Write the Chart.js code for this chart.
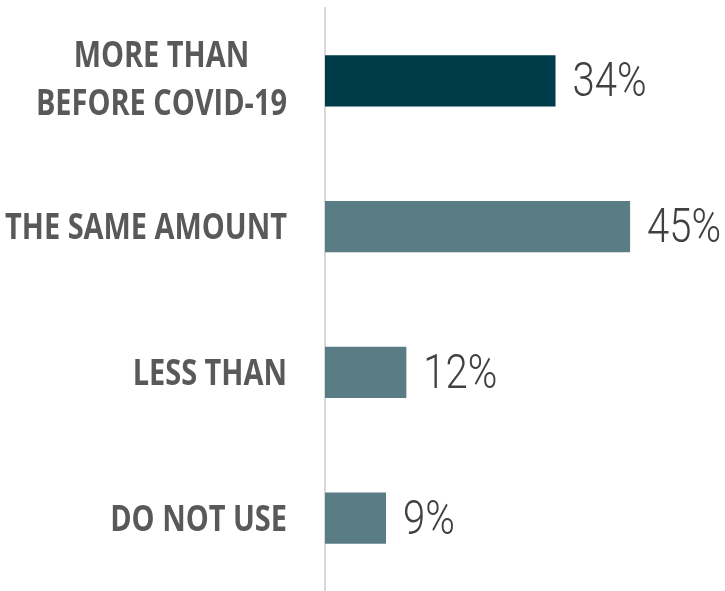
<!DOCTYPE html>
<html>
<head>
<meta charset="utf-8">
<script src="https://cdn.jsdelivr.net/npm/chart.js@4/dist/chart.umd.min.js"></script>
<style>
  html, body { margin: 0; padding: 0; background: #ffffff; }
  #wrap { width: 725px; height: 591px; position: relative; }
</style>
</head>
<body>
<div id="wrap"><canvas id="usageChart"></canvas></div>
<script>
// Datos del gráfico
const categories = [['MORE THAN', 'BEFORE COVID-19'], 'THE SAME AMOUNT', 'LESS THAN', 'DO NOT USE'];
const values = [34, 45, 12, 9];
const barColors = ['#003b4a', '#5a7c85', '#5a7c85', '#5a7c85'];

// Texto condensado: se dibuja con escala horizontal
function condensedText(ctx, text, x, y, sx, align) {
    const w = ctx.measureText(text).width * sx;
    let left = x;
    if (align === 'right') left = x - w;
    if (align === 'center') left = x - w / 2;
    ctx.save();
    ctx.translate(left, y);
    ctx.scale(sx, 1);
    ctx.fillText(text, 0, 0);
    ctx.restore();
}

// Etiquetas de categoría (posición tomada de la escala y) y valores
const textLabels = {
    id: 'textLabels',
    afterDatasetsDraw(chart) {
        const ctx = chart.ctx;
        const yScale = chart.scales.y;
        const meta = chart.getDatasetMeta(0);
        ctx.save();
        ctx.textAlign = 'left';
        ctx.textBaseline = 'alphabetic';

        // categorías: bloque alineado a la derecha, líneas centradas
        ctx.font = 'bold 35px "Open Sans", Roboto, sans-serif';
        ctx.fillStyle = '#595959';
        const sxCat = 282 / ctx.measureText('THE SAME AMOUNT').width;
        const rightEdge = yScale.right - 38;
        categories.forEach((label, i) => {
            const lines = Array.isArray(label) ? label : [label];
            const cy = yScale.getPixelForTick(i);
            const blockW = Math.max(...lines.map(l => ctx.measureText(l).width)) * sxCat;
            const cx = rightEdge - blockW / 2;
            lines.forEach((line, j) => {
                const off = (j - (lines.length - 1) / 2) * 48;
                const yb = cy + 12.5 + off - (lines.length > 1 ? 2.5 : 0);
                condensedText(ctx, line, cx, yb, sxCat, 'center');
            });
        });

        // valores
        ctx.font = '300 49px Roboto, "Open Sans", sans-serif';
        ctx.fillStyle = '#404040';
        const sxVal = 74 / ctx.measureText('34%').width;
        meta.data.forEach((bar, i) => {
            condensedText(ctx, values[i] + '%', bar.x + 17, bar.y + 15.5, sxVal, 'left');
        });
        ctx.restore();
    }
};

new Chart(document.getElementById('usageChart').getContext('2d'), {
    type: 'bar',
    data: {
        labels: categories,
        datasets: [{
            data: values,
            backgroundColor: barColors,
            borderWidth: 0,
            categoryPercentage: 1,
            barPercentage: 0.35
        }]
    },
    options: {
        indexAxis: 'y',
        responsive: true,
        maintainAspectRatio: false,
        animation: false,
        layout: { autoPadding: false, padding: { top: 8, bottom: 0, left: 0, right: 0 } },
        plugins: {
            legend: { display: false },
            tooltip: { enabled: false }
        },
        scales: {
            x: {
                display: false,
                min: 0,
                max: 59
            },
            y: {
                afterFit: function(axis) { axis.width = 325; },
                grid: { display: false, drawTicks: false },
                border: { display: true, color: '#d9d9d9', width: 2 },
                ticks: { display: false }
            }
        }
    },
    plugins: [textLabels]
});
</script>
</body>
</html>
